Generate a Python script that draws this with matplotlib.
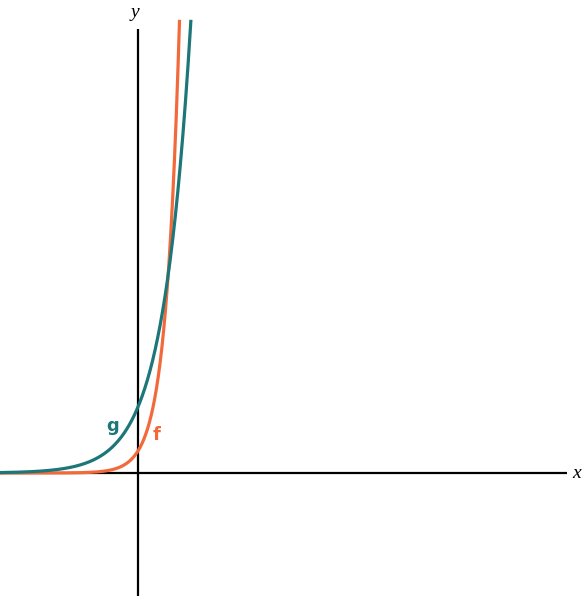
import numpy as np
import matplotlib
matplotlib.use("Agg")
import matplotlib.pyplot as plt

# Function data: y = coef * exp(rate * x)
names = ["f", "g"]
coefs = [1.0, 3.0]
rates = [1.6, 0.8]
colors = ["#f26a3c", "#1d7678"]
label_pos = [(0.85, 1.75), (-1.15, 2.15)]

xmin, xmax = -6.27, 20.23
ymin, ymax = -5.59, 21.5
ytop = 20.6

fig = plt.figure(figsize=(5.83, 5.96), dpi=100)
ax = fig.add_axes([0, 0, 1, 1])
ax.set_xlim(xmin, xmax)
ax.set_ylim(ymin, ymax)
ax.axis("off")

# axes lines
ax.plot([xmin, 19.5], [0, 0], color="black", lw=1.6, solid_capstyle="butt")
ax.plot([0, 0], [ymin, 20.2], color="black", lw=1.6, solid_capstyle="butt")
ax.text(19.95, 0, "x", fontfamily="Liberation Serif", fontstyle="italic",
        fontsize=14, ha="center", va="center")
ax.text(-0.12, 20.95, "y", fontfamily="Liberation Serif", fontstyle="italic",
        fontsize=14, ha="center", va="center")

for name, c, r, col, (lx, ly) in zip(names, coefs, rates, colors, label_pos):
    xe = np.log(ytop / c) / r
    xs = np.linspace(xmin, xe, 600)
    ys = c * np.exp(r * xs)
    ax.plot(xs, ys, color=col, lw=2.3, solid_capstyle="butt")
    ax.text(lx, ly, name, color=col, fontsize=13, fontweight="bold",
            ha="center", va="center", fontfamily="DejaVu Sans")

fig.savefig("out.png", dpi=100)
